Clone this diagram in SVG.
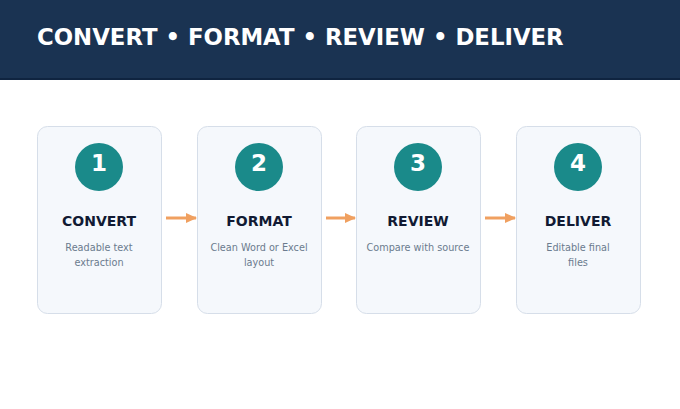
<svg xmlns="http://www.w3.org/2000/svg" width="680" height="409" viewBox="0 0 680 409">
<defs>
<style>
.card{fill:#f5f8fc;stroke:#d6dee9;stroke-width:1}
.badge{fill:#1a8a8a}
.num{font-family:"DejaVu Sans",sans-serif;font-weight:bold;font-size:23px;fill:#ffffff;text-anchor:middle}
.ttl{font-family:"DejaVu Sans",sans-serif;font-weight:bold;font-size:14px;fill:#111a33;text-anchor:middle}
.dsc{font-family:"DejaVu Sans",sans-serif;font-size:9.7px;fill:#6b7b8e;text-anchor:middle}
.conn{stroke:#f0a060;stroke-width:3;fill:none}
</style>
<marker id="ah" markerWidth="11" markerHeight="10" refX="10" refY="5" orient="auto" markerUnits="userSpaceOnUse" viewBox="0 0 11 10">
<path d="M0,0 L11,5 L0,10 z" fill="#f0a060"/>
</marker>
</defs>
<rect x="0" y="0" width="680" height="409" fill="#ffffff"/>
<rect x="0" y="0" width="680" height="79" fill="#1a3352"/>
<rect x="0" y="78" width="680" height="2" fill="#0f2440"/>
<text x="37" y="45" font-family="DejaVu Sans, sans-serif" font-weight="bold" font-size="22.8" fill="#ffffff">CONVERT • FORMAT • REVIEW • DELIVER</text>

<g id="step1">
<rect class="card" x="37.5" y="126.5" width="124" height="187" rx="10"/>
<circle class="badge" cx="99" cy="167" r="24"/>
<text class="num" x="99" y="171">1</text>
<text class="ttl" x="99" y="226">CONVERT</text>
<text class="dsc" x="99" y="251">Readable text</text>
<text class="dsc" x="99" y="266">extraction</text>
</g>
<g id="step2">
<rect class="card" x="197.5" y="126.5" width="124" height="187" rx="10"/>
<circle class="badge" cx="259" cy="167" r="24"/>
<text class="num" x="259" y="171">2</text>
<text class="ttl" x="259" y="226">FORMAT</text>
<text class="dsc" x="259" y="251">Clean Word or Excel</text>
<text class="dsc" x="259" y="266">layout</text>
</g>
<g id="step3">
<rect class="card" x="356.5" y="126.5" width="124" height="187" rx="10"/>
<circle class="badge" cx="418" cy="167" r="24"/>
<text class="num" x="418" y="171">3</text>
<text class="ttl" x="418" y="226">REVIEW</text>
<text class="dsc" x="418" y="251">Compare with source</text>
</g>
<g id="step4">
<rect class="card" x="516.5" y="126.5" width="124" height="187" rx="10"/>
<circle class="badge" cx="578" cy="167" r="24"/>
<text class="num" x="578" y="171">4</text>
<text class="ttl" x="578" y="226">DELIVER</text>
<text class="dsc" x="578" y="251">Editable final</text>
<text class="dsc" x="578" y="266">files</text>
</g>
<g id="connectors">
<line class="conn" x1="166" y1="218" x2="196" y2="218" marker-end="url(#ah)"/>
<line class="conn" x1="326" y1="218" x2="355" y2="218" marker-end="url(#ah)"/>
<line class="conn" x1="485" y1="218" x2="515" y2="218" marker-end="url(#ah)"/>
</g>
</svg>
